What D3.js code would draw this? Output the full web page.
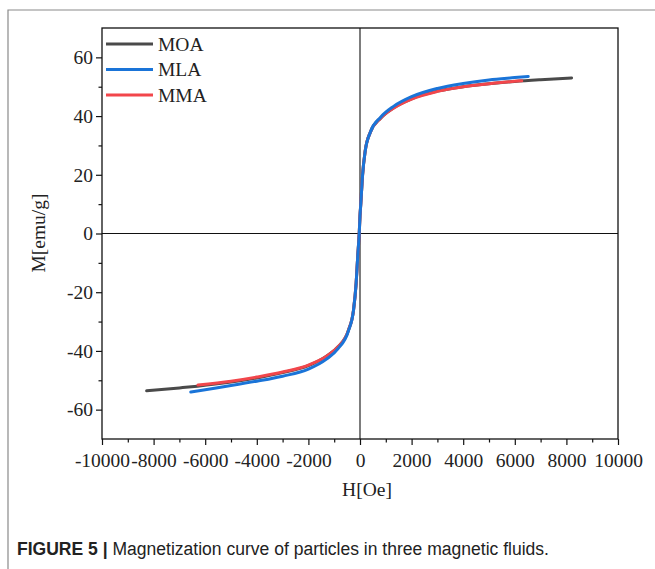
<!DOCTYPE html>
<html><head><meta charset="utf-8">
<script src="https://cdn.jsdelivr.net/npm/d3@7"></script>
<style>html,body{margin:0;padding:0;background:#fff;}svg{display:block;}</style>
</head><body>
<svg id="c" width="655" height="569"></svg>
<script>
// ---- data ----
const seriesNames = ["MOA", "MLA", "MMA"];
const seriesColors = ["#4a4a4a", "#1a74d8", "#f2464b"];
const xTicks = [-10000,-8000,-6000,-4000,-2000,0,2000,4000,6000,8000,10000];
const yTicks = [-60,-40,-20,0,20,40,60];

const H_MOA = [-8270,-7000,-6300,-5000,-4000,-3000,-2000,-1300,-850,-450,-250,-150,-90,-30,0,30,100,200,400,800,1300,2000,3000,4000,5000,6000,7000,8200];
const M_MOA = [-53.6,-52.6,-52.0,-50.6,-49.2,-47.4,-45.0,-41.8,-38.6,-33.0,-26.0,-17.0,-8.0,0,6,10,20,28,34.5,39.3,42.8,45.9,48.5,50.0,51.0,51.8,52.4,53.0];

const H_MLA = [-6560,-6000,-5000,-4000,-3000,-2000,-1300,-850,-450,-250,-150,-90,-30,0,30,100,200,400,800,1300,2000,3000,4000,5000,6000,6520];
const M_MLA = [-54.0,-53.2,-51.8,-50.3,-48.6,-46.2,-42.8,-39.2,-33.2,-26.0,-17.0,-8.0,0,6,10,20,28,34.5,39.6,43.3,46.6,49.4,51.1,52.3,53.1,53.5];

const H_MMA = [-6280,-5000,-4000,-3000,-2000,-1300,-850,-450,-250,-150,-90,-30,0,30,100,200,400,800,1300,2000,3000,4000,5000,6270];
const M_MMA = [-51.6,-50.3,-48.9,-47.2,-44.8,-41.8,-38.6,-33.0,-26.0,-17.0,-8.0,0,6,10,20,28,34.5,39.3,42.7,45.8,48.4,50.0,51.0,52.0];

const series = [
  {name: seriesNames[0], color: seriesColors[0], H: H_MOA, M: M_MOA},
  {name: seriesNames[1], color: seriesColors[1], H: H_MLA, M: M_MLA},
  {name: seriesNames[2], color: seriesColors[2], H: H_MMA, M: M_MMA}
];

// ---- layout ----
const svg = d3.select("#c");
const L = 102, R = 618, T = 28, B = 439;
const x = d3.scaleLinear().domain([-10000, 10000]).range([L, R]);
const y = d3.scaleLinear().domain([-70, 70]).range([B, T]);
const serif = "'Liberation Serif','Times New Roman',serif";
const fmt = d => String(d);

// outer panel border
svg.append("path").attr("d", `M8,569 V10 H655`).attr("fill","none").attr("stroke","#8a8a8a").attr("stroke-width",1.2);

// zero lines
svg.append("line").attr("x1", x(0)).attr("x2", x(0)).attr("y1", T).attr("y2", B).attr("stroke","#111").attr("stroke-width",1.1);
svg.append("line").attr("x1", L).attr("x2", R).attr("y1", y(0)).attr("y2", y(0)).attr("stroke","#111").attr("stroke-width",1.1);

// curves: draw MOA, MMA, MLA on top
const line = d3.line().x(d => x(d[0])).y(d => y(d[1])).curve(d3.curveMonotoneX);
[0, 2, 1].forEach(i => {
  const s = series[i];
  svg.append("path").datum(s.H.map((h, k) => [h, s.M[k]]))
    .attr("d", line).attr("fill","none").attr("stroke", s.color)
    .attr("stroke-width", 3).attr("stroke-linecap","round");
});

// frame
svg.append("rect").attr("x", L).attr("y", T).attr("width", R - L).attr("height", B - T)
  .attr("fill","none").attr("stroke","#111").attr("stroke-width",1.3);

// axes
const xMinor = d3.range(-9000, 10000, 2000);
const yMinor = [-50,-30,-10,10,30,50];
const gx = svg.append("g").attr("transform", `translate(0,${B})`);
gx.call(d3.axisBottom(x).tickValues(xMinor).tickSize(3.5).tickFormat(""));
gx.select(".domain").remove();
const gx2 = svg.append("g").attr("transform", `translate(0,${B})`);
gx2.call(d3.axisBottom(x).tickValues(xTicks).tickSize(6).tickPadding(8).tickFormat(fmt));
gx2.select(".domain").remove();
[gx, gx2].forEach(g => g.selectAll("line").attr("stroke","#111").attr("stroke-width",1.2));
gx2.selectAll("text").attr("font-family", serif).attr("font-size", 19.5).attr("fill","#222").attr("dy","0.72em");

const gy = svg.append("g").attr("transform", `translate(${L},0)`);
gy.call(d3.axisLeft(y).tickValues(yMinor).tickSize(3.5).tickFormat(""));
gy.select(".domain").remove();
const gy2 = svg.append("g").attr("transform", `translate(${L},0)`);
gy2.call(d3.axisLeft(y).tickValues(yTicks).tickSize(6).tickPadding(3).tickFormat(fmt));
gy2.select(".domain").remove();
[gy, gy2].forEach(g => g.selectAll("line").attr("stroke","#111").attr("stroke-width",1.2));
gy2.selectAll("text").attr("font-family", serif).attr("font-size", 19.5).attr("fill","#222");

// axis titles
svg.append("text").attr("x", 367).attr("y", 496).attr("text-anchor","middle")
  .attr("font-family", serif).attr("font-size", 19.5).attr("fill","#222").text("H[Oe]");
svg.append("text").attr("transform","translate(45,233) rotate(-90)").attr("text-anchor","middle")
  .attr("font-family", serif).attr("font-size", 19.5).attr("fill","#222").text("M[emu/g]");

// legend
series.forEach((s, i) => {
  const yy = 44 + i * 25.5;
  svg.append("line").attr("x1", 106).attr("x2", 153).attr("y1", yy).attr("y2", yy)
    .attr("stroke", s.color).attr("stroke-width", 3);
  svg.append("text").attr("x", 158).attr("y", yy + 6.5).attr("font-family", serif)
    .attr("font-size", 19.5).attr("fill","#222").text(s.name);
});

// caption
const cap = svg.append("text").attr("x", 17).attr("y", 555)
  .attr("font-family","'Liberation Sans',Arial,sans-serif").attr("font-size", 18).attr("fill","#222")
  .attr("textLength", 532).attr("lengthAdjust","spacingAndGlyphs");
cap.append("tspan").attr("font-weight","bold").text("FIGURE 5 | ");
cap.append("tspan").text("Magnetization curve of particles in three magnetic fluids.");
</script>
</body></html>
